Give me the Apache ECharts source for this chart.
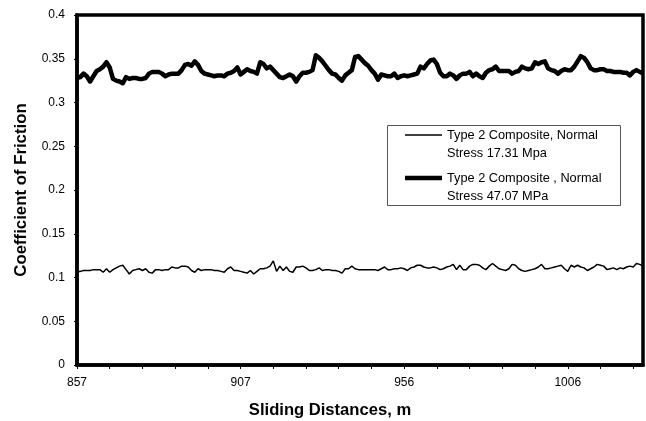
<!DOCTYPE html>
<html>
<head>
<meta charset="utf-8">
<script src="https://cdn.jsdelivr.net/npm/echarts@6/dist/echarts.min.js"></script>
<style>
  html, body { margin: 0; padding: 0; background: #fff; }
  #chart { width: 646px; height: 421px; }
</style>
</head>
<body>
<div id="chart"></div>
<script>
// Sliding distance (m) for each recorded sample, about one metre apart
const distances = Array.from({ length: 174 }, (_, i) => String(Math.round(857 + i * 0.993)));
const tickLabels = ['857', '907', '956', '1006'];
const yTicks = [0, 0.05, 0.1, 0.15, 0.2, 0.25, 0.3, 0.35, 0.4];

const seriesNames = [
  'Type 2 Composite, Normal\nStress 17.31 Mpa',
  'Type 2 Composite , Normal\nStress 47.07 MPa'
];

// Coefficient of friction, normal stress 17.31 MPa
const cofLow = [
  .107,.107,.108,.108,.108,.109,.109,.109,.106,.110,
  .106,.109,.111,.113,.114,.109,.104,.108,.109,.110,
  .108,.110,.106,.105,.109,.109,.108,.109,.109,.112,
  .111,.111,.113,.113,.112,.108,.106,.110,.108,.109,
  .109,.109,.108,.108,.107,.106,.110,.112,.108,.108,
  .107,.106,.105,.108,.104,.107,.110,.110,.111,.113,
  .119,.107,.113,.108,.112,.107,.106,.112,.112,.113,
  .111,.108,.108,.109,.111,.108,.109,.109,.108,.108,
  .107,.105,.110,.110,.113,.110,.109,.109,.109,.109,
  .109,.109,.108,.110,.112,.109,.109,.110,.110,.111,
  .110,.108,.111,.112,.114,.114,.112,.111,.111,.112,
  .111,.109,.110,.112,.113,.115,.109,.114,.109,.109,
  .113,.115,.115,.114,.111,.109,.113,.116,.113,.110,
  .109,.108,.110,.115,.114,.110,.108,.107,.108,.109,
  .110,.112,.115,.110,.110,.111,.112,.113,.114,.110,
  .107,.114,.112,.114,.112,.111,.108,.110,.112,.115,
  .114,.113,.109,.110,.111,.109,.111,.110,.112,.113,
  .112,.116,.115,.113
];

// Coefficient of friction, normal stress 47.07 MPa
const cofHigh = [
  .328,.329,.333,.330,.324,.330,.336,.338,.341,.346,
  .340,.327,.325,.324,.322,.329,.327,.328,.328,.327,
  .327,.328,.333,.335,.335,.335,.333,.330,.332,.333,
  .333,.333,.337,.343,.344,.342,.347,.343,.336,.333,
  .332,.331,.330,.331,.331,.330,.333,.334,.336,.340,
  .332,.335,.338,.336,.335,.333,.346,.344,.339,.341,
  .337,.333,.329,.328,.330,.332,.330,.324,.330,.334,
  .334,.335,.337,.354,.351,.347,.342,.337,.333,.332,
  .328,.325,.331,.334,.337,.352,.353,.349,.345,.342,
  .337,.333,.326,.332,.331,.330,.330,.333,.328,.330,
  .331,.330,.331,.332,.333,.341,.339,.344,.348,.349,
  .344,.334,.330,.330,.333,.331,.327,.331,.333,.333,
  .335,.330,.333,.330,.328,.334,.337,.338,.341,.336,
  .336,.336,.336,.333,.335,.336,.341,.339,.338,.339,
  .346,.344,.346,.347,.339,.337,.336,.333,.336,.338,
  .337,.337,.341,.347,.353,.351,.346,.339,.337,.337,
  .338,.338,.336,.336,.335,.335,.335,.334,.334,.331,
  .335,.337,.335,.333
];

const FONT = '"Liberation Sans", Arial, sans-serif';
const chart = echarts.init(document.getElementById('chart'), null, { renderer: 'canvas' });

chart.setOption({
  animation: false,
  backgroundColor: '#ffffff',
  textStyle: { fontFamily: FONT, color: '#000' },
  grid: {
    left: 77, right: 3, top: 15, bottom: 56,
    show: true, borderColor: '#000', borderWidth: 3.5, backgroundColor: 'transparent'
  },
  xAxis: {
    type: 'category',
    data: distances,
    boundaryGap: false,
    axisLine: { lineStyle: { color: '#000', width: 3.5 } },
    axisTick: { show: true, interval: 9, length: 4, lineStyle: { color: '#000', width: 1 } },
    axisLabel: {
      interval: 49,
      margin: 12,
      fontSize: 12,
      fontFamily: FONT,
      color: '#000',
      formatter: (v) => (tickLabels.includes(v) ? v : '')
    },
    splitLine: { show: false }
  },
  yAxis: {
    type: 'value',
    min: 0, max: 0.4, interval: 0.05,
    axisLine: { show: true, lineStyle: { color: '#000', width: 3.5 } },
    axisTick: { show: true, length: 3, lineStyle: { color: '#000', width: 1 } },
    axisLabel: {
      margin: 12,
      fontSize: 12,
      fontFamily: FONT,
      color: '#000',
      formatter: (v) => {
        const hit = yTicks.find((t) => Math.abs(t - v) < 1e-9);
        return hit === undefined ? '' : String(+hit.toFixed(2));
      }
    },
    splitLine: { show: false }
  },
  legend: {
    orient: 'vertical',
    left: 405,
    top: 108,
    itemWidth: 37,
    itemHeight: 5,
    itemGap: -11,
    padding: 0,
    // leading blank line lets the swatch sit beside the first text line
    formatter: (name) => '\n' + name,
    data: [
      { name: seriesNames[0], icon: 'path://M0,0H37V1.5H0Z' },
      { name: seriesNames[1], icon: 'path://M0,0H37V4.5H0Z' }
    ],
    itemStyle: { color: '#000', borderWidth: 0 },
    textStyle: {
      fontFamily: FONT, fontSize: 12.75, color: '#000', lineHeight: 18
    }
  },
  graphic: [
    {
      type: 'rect',
      shape: { x: 387.5, y: 125.5, width: 233, height: 80 },
      style: { fill: 'none', stroke: '#555', lineWidth: 1 },
      silent: true, z: 5
    },
    {
      type: 'text',
      x: 330, y: 410,
      style: {
        text: 'Sliding Distances, m',
        font: 'bold 16.6px ' + FONT,
        fill: '#000', textAlign: 'center', textVerticalAlign: 'middle'
      }
    },
    {
      type: 'text',
      x: 21, y: 190,
      rotation: Math.PI / 2,
      style: {
        text: 'Coefficient of Friction',
        font: 'bold 16.8px ' + FONT,
        fill: '#000', textAlign: 'center', textVerticalAlign: 'middle'
      }
    }
  ],
  series: [
    {
      name: seriesNames[0],
      type: 'line',
      data: cofLow,
      symbol: 'none',
      showSymbol: false,
      color: '#000',
      lineStyle: { color: '#000', width: 1.5 },
      z: 3
    },
    {
      name: seriesNames[1],
      type: 'line',
      data: cofHigh,
      symbol: 'none',
      showSymbol: false,
      color: '#000',
      lineStyle: { color: '#000', width: 4.5, join: 'round' },
      z: 3
    }
  ]
});
</script>
</body>
</html>
